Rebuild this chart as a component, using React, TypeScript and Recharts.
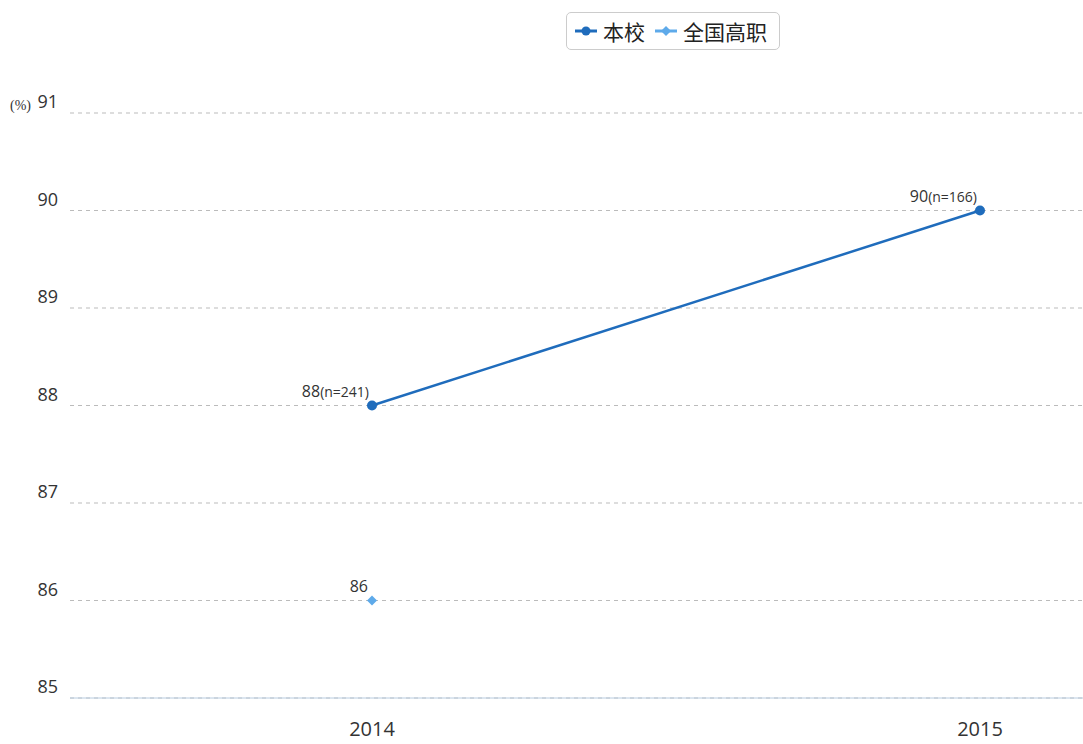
import React from "react";
import {
  LineChart,
  Line,
  XAxis,
  YAxis,
  CartesianGrid,
} from "recharts";

const years = ["2014", "2015"];
const schoolValues = [88, 90];
const schoolCounts = [241, 166];
const nationalValues: (number | null)[] = [86, null];
const yTicks = [85, 86, 87, 88, 89, 90, 91];

const SCHOOL = "#1f6cbc";
const NATIONAL = "#5eaaea";
const FONT = "'Open Sans', 'Noto Sans CJK SC', sans-serif";

const data = years.map((year, i) => ({
  year,
  school: schoolValues[i],
  n: schoolCounts[i],
  national: nationalValues[i],
}));

const SchoolLabel = (props: any) => {
  const { x, y, index } = props;
  if (x == null || y == null) return null;
  return (
    <text x={x - 3} y={y - 9} textAnchor="end" fill="#333" fontFamily={FONT}>
      <tspan fontSize={16}>{schoolValues[index]}</tspan>
      <tspan fontSize={14}>{`(n=${schoolCounts[index]})`}</tspan>
    </text>
  );
};

const NationalLabel = (props: any) => {
  const { x, y, value } = props;
  if (x == null || y == null || value == null) return null;
  return (
    <text x={x - 4} y={y - 9} textAnchor="end" fill="#333" fontSize={16} fontFamily={FONT}>
      {value}
    </text>
  );
};

const Diamond = (props: any) => {
  const { cx, cy } = props;
  if (cx == null || cy == null) return null;
  const r = 5;
  return (
    <path
      d={`M${cx},${cy - r}L${cx + r},${cy}L${cx},${cy + r}L${cx - r},${cy}Z`}
      fill={NATIONAL}
    />
  );
};

const YTick = (props: any) => {
  const { x, y, payload } = props;
  return (
    <text x={x} y={y - 5} textAnchor="end" fill="#333" fontSize={18} fontFamily={FONT}>
      {payload.value}
    </text>
  );
};

const LegendBox = () => (
  <div
    style={{
      position: "absolute",
      left: 566,
      top: 12,
      height: 38,
      boxSizing: "border-box",
      display: "flex",
      alignItems: "center",
      gap: 6,
      border: "1px solid #ccc",
      borderRadius: 5,
      padding: "0 12px 0 8px",
      fontFamily: FONT,
      fontSize: 21,
      color: "#222",
      background: "#fff",
    }}
  >
    <svg width={22} height={12}>
      <line x1={0} y1={6} x2={22} y2={6} stroke={SCHOOL} strokeWidth={3} />
      <circle cx={11} cy={6} r={4.5} fill={SCHOOL} />
    </svg>
    <span>本校</span>
    <svg width={22} height={12} style={{ marginLeft: 4 }}>
      <line x1={0} y1={6} x2={22} y2={6} stroke={NATIONAL} strokeWidth={3} />
      <path d="M11,1L16,6L11,11L6,6Z" fill={NATIONAL} />
    </svg>
    <span>全国高职</span>
  </div>
);

export default function App() {
  return (
    <div style={{ position: "absolute", left: 0, top: 0, width: 1083, height: 744, background: "#fff" }}>
      <LineChart
        width={1083}
        height={744}
        data={data}
        margin={{ top: 113, right: 0, left: 0, bottom: 0 }}
      >
        <CartesianGrid vertical={false} stroke="#bbb" strokeDasharray="4 4" />
        <XAxis
          dataKey="year"
          padding={{ left: 302, right: 103 }}
          axisLine={{ stroke: "#b8cce0" }}
          tickLine={false}
          tick={{ fontSize: 20, fill: "#333", fontFamily: FONT }}
          tickMargin={18}
          height={46}
        />
        <YAxis
          domain={[85, 91]}
          ticks={yTicks}
          width={70}
          axisLine={false}
          tickLine={false}
          tick={YTick}
          tickMargin={6}
          label={{
            value: "(%)",
            position: "insideTopLeft",
            offset: 0,
            dx: 10,
            dy: -13,
            fontSize: 14,
            fill: "#333",
          }}
        />
        <Line
          dataKey="school"
          stroke={SCHOOL}
          strokeWidth={2.5}
          dot={{ r: 5, fill: SCHOOL, stroke: SCHOOL, strokeWidth: 0 }}
          activeDot={false}
          label={SchoolLabel}
          isAnimationActive={false}
        />
        <Line
          dataKey="national"
          stroke={NATIONAL}
          strokeWidth={2.5}
          dot={Diamond}
          activeDot={false}
          label={NationalLabel}
          isAnimationActive={false}
        />
      </LineChart>
      <LegendBox />
    </div>
  );
}
